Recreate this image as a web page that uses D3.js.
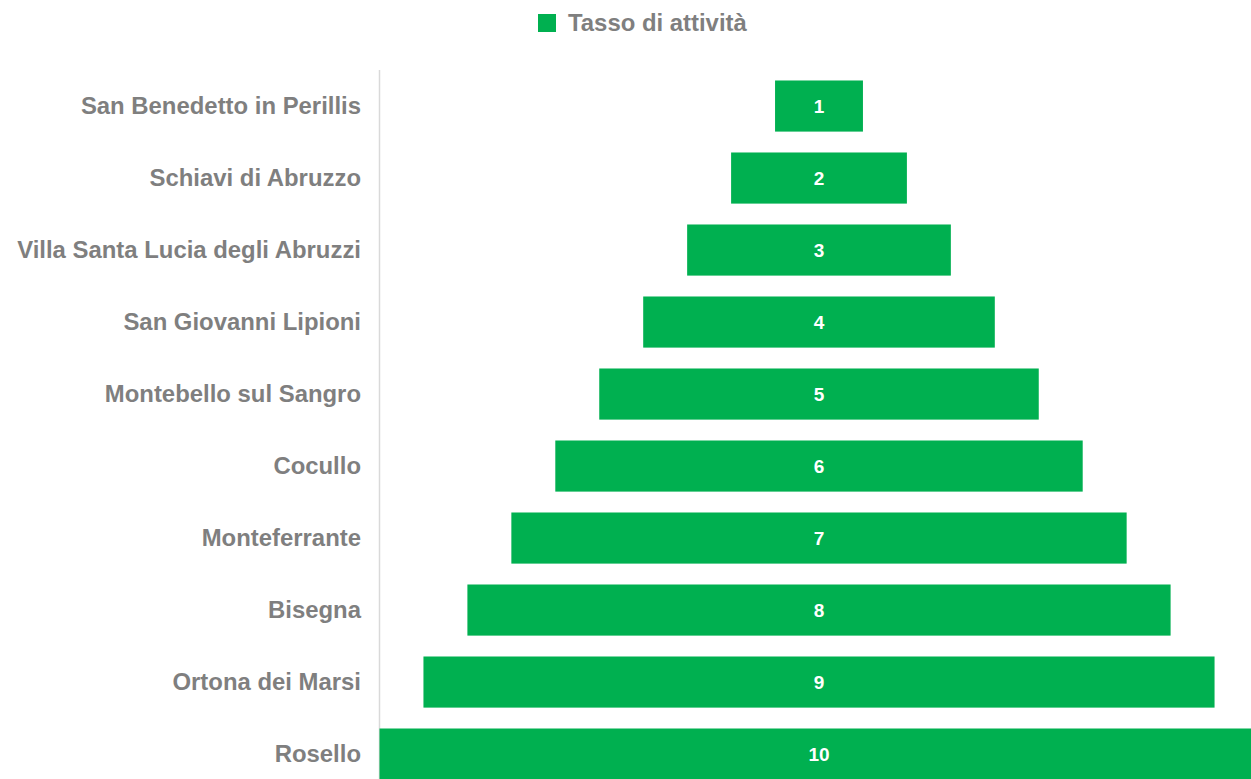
<!DOCTYPE html>
<html>
<head>
<meta charset="utf-8">
<script src="https://cdn.jsdelivr.net/npm/d3@7"></script>
<style>
html,body{margin:0;padding:0;background:#fff;overflow:hidden;}
svg{display:block;}
</style>
</head>
<body>
<svg id="chart" width="1251" height="779"></svg>
<script>
const categories = ["San Benedetto in Perillis","Schiavi di Abruzzo","Villa Santa Lucia degli Abruzzi","San Giovanni Lipioni","Montebello sul Sangro","Cocullo","Monteferrante","Bisegna","Ortona dei Marsi","Rosello"];
const values = [1,2,3,4,5,6,7,8,9,10];
const seriesName = "Tasso di attività";

const svg = d3.select("#chart");
const green = "#00B050";
const gray = "#7F7F7F";
const font = "'Liberation Sans', Arial, sans-serif";

const x = d3.scaleLinear().domain([-5, 5]).range([379.5, 1258.5]);
const y = d3.scaleBand().domain(categories).range([59.6, 800.5]).paddingInner(0.29).paddingOuter(0.29);

// axis line
svg.append("line").attr("x1", 379.5).attr("x2", 379.5).attr("y1", 70).attr("y2", 779)
  .attr("stroke", "#D9D9D9").attr("stroke-width", 1.5);

// bars
svg.selectAll("rect.bar").data(values).enter().append("rect")
  .attr("class", "bar")
  .attr("x", d => x(-d / 2))
  .attr("width", d => x(d / 2) - x(-d / 2))
  .attr("y", (d, i) => y(categories[i]))
  .attr("height", y.bandwidth())
  .attr("fill", green);

// value labels
svg.selectAll("text.val").data(values).enter().append("text")
  .attr("class", "val")
  .attr("x", x(0))
  .attr("y", (d, i) => y(categories[i]) + y.bandwidth() / 2)
  .attr("dy", "0.35em")
  .attr("text-anchor", "middle")
  .attr("font-family", font).attr("font-weight", "bold").attr("font-size", 19)
  .attr("fill", "#fff")
  .text(d => d);

// category labels
const yAxis = d3.axisLeft(y).tickSize(0).tickPadding(0);
const ax = svg.append("g").attr("transform", "translate(361,0)").call(yAxis);
ax.select(".domain").remove();
ax.selectAll("text").attr("font-family", font).attr("font-weight", "bold")
  .attr("font-size", 23.9).attr("fill", gray);

// legend
svg.append("rect").attr("x", 538).attr("y", 14).attr("width", 18).attr("height", 18).attr("fill", green);
svg.append("text").attr("x", 568).attr("y", 23).attr("dy", "0.35em")
  .attr("font-family", font).attr("font-weight", "bold").attr("font-size", 23.9).attr("fill", gray)
  .text(seriesName);
</script>
</body>
</html>
